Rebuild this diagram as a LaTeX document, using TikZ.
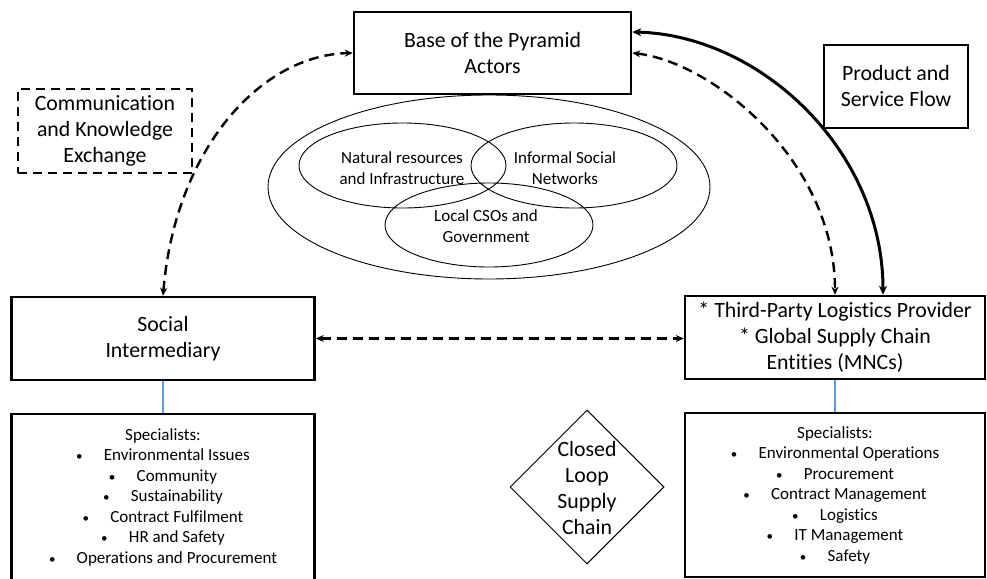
\documentclass[tikz,border=0pt]{standalone}
\usepackage{fontspec}
\setmainfont{Carlito}[Ligatures={NoCommon}]
\usetikzlibrary{arrows.meta,shapes.geometric,calc}
\definecolor{linkblue}{RGB}{91,155,213}
\tikzset{
  box/.style={draw=black,line width=2.5pt,fill=white,align=center,inner sep=0pt},
  bigtxt/.style={font=\fontsize{21.8}{26}\selectfont,align=center},
  midtxt/.style={font=\fontsize{17}{20.5}\selectfont,align=center},
  oval/.style={draw=black,line width=0.9pt,ellipse,inner sep=0pt},
  dflow/.style={line width=2.4pt,dash pattern=on 10pt off 6pt,{Stealth[length=8pt,width=7pt]}-{Stealth[length=8pt,width=7pt]}},
  pflow/.style={line width=3pt,{Stealth[length=9pt,width=8pt]}-{Stealth[length=9pt,width=8pt]}},
  link/.style={draw=linkblue,line width=1.5pt}
}
\newcommand{\bul}{{\fontsize{13}{13}\selectfont\textbullet}\hspace{1.25em}}
\begin{document}
\begin{tikzpicture}[x=1pt,y=-1pt]
\clip (0,0) rectangle (987,578);
\fill[white] (0,0) rectangle (987,578);

% ellipses
\node[oval,minimum width=442pt,minimum height=184pt] (big) at (489,187) {};
\node[oval,minimum width=207pt,minimum height=85pt] (nat) at (402.5,165.5) {};
\node[oval,minimum width=206pt,minimum height=85pt] (inf) at (574,165.5) {};
\node[oval,minimum width=208pt,minimum height=84pt] (loc) at (489,225) {};
\node[midtxt] (natt) at (402,168) {Natural resources\\and Infrastructure};
\node[midtxt] (inft) at (565,168) {Informal Social\\Networks};
\node[midtxt] (loct) at (486,226) {Local CSOs and\\Government};

% main boxes
\node[box,bigtxt,minimum width=277pt,minimum height=82pt] (base) at (492.5,53) {Base of the Pyramid\\Actors};
\node[box,bigtxt,dash pattern=on 9pt off 6pt,minimum width=174pt,minimum height=84pt] (comm) at (105,131) {Communication\\and Knowledge\\Exchange};
\node[box,bigtxt,minimum width=144pt,minimum height=83pt] (prod) at (896,86.5) {Product and\\Service Flow};
\node[box,bigtxt,minimum width=303pt,minimum height=83pt] (si) at (163,338.5) {Social\\Intermediary};
\node[box,bigtxt,minimum width=300pt,minimum height=83pt] (tpl) at (835,337.5) {* Third-Party Logistics Provider\\* Global Supply Chain\\Entities (MNCs)};

% specialist boxes
\node[box,midtxt,minimum width=303pt,minimum height=166pt] (sl) at (163,497) {Specialists:\\\bul Environmental Issues\\\bul Community\\\bul Sustainability\\\bul Contract Fulfilment\\\bul HR and Safety\\\bul Operations and Procurement};
\node[box,midtxt,minimum width=300pt,minimum height=164pt] (sr) at (835,495) {Specialists:\\\bul Environmental Operations\\\bul Procurement\\\bul Contract Management\\\bul Logistics\\\bul IT Management\\\bul Safety};

% diamond
\node[draw=black,line width=1pt,diamond,minimum width=154pt,minimum height=154pt,inner sep=0pt] (clsc) at (587,487) {};
\node[bigtxt] (clsct) at (587,488) {Closed\\Loop\\Supply\\Chain};

% links
\draw[link] (si.south) -- (sl.north);
\draw[link] (tpl.south) -- (sr.north);

% flows
\draw[dflow] (si.north) .. controls (175,150) and (260,55) .. (base.west);
\draw[dflow] (base.east) .. controls (712,62) and (835,160) .. (tpl.north);
\coordinate (bt) at ([yshift=21pt]base.east);
\coordinate (tt) at ([xshift=48pt]tpl.north);
\draw[pflow] (bt) .. controls (760,35) and (883,150) .. (tt);
\draw[dflow] (si.east) -- (si.east -| tpl.west);
\end{tikzpicture}
\end{document}
